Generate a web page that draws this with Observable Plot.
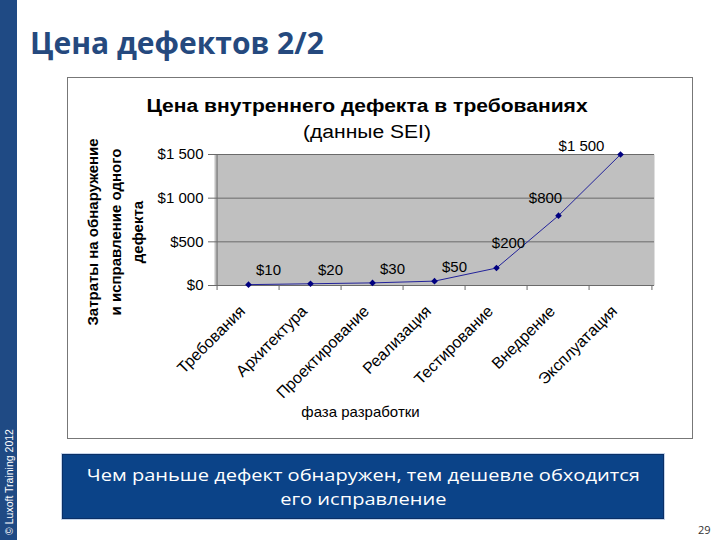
<!DOCTYPE html>
<html>
<head>
<meta charset="utf-8">
<script src="https://cdn.jsdelivr.net/npm/d3@7"></script>
<script src="https://cdn.jsdelivr.net/npm/@observablehq/plot@0.6"></script>
<style>
  html, body { margin: 0; padding: 0; background: #fff; }
  #page { position: relative; width: 720px; height: 540px; overflow: hidden; font-family: "Open Sans", sans-serif; }
  #band { position: absolute; left: 0; top: 0; width: 17px; height: 540px; background: #1f4a84; }
  #copy { position: absolute; left: 8.5px; top: 482px; transform: translate(-50%, -50%) rotate(-90deg); color: #fff;
          font: 10.5px "Liberation Sans", Arial, sans-serif; white-space: nowrap; }
  #title { position: absolute; left: 30px; top: 28px; font-size: 30px; line-height: 30px; font-weight: 700; color: #25497e; white-space: nowrap; }
  #frame { position: absolute; left: 67px; top: 77px; width: 626px; height: 362px; box-sizing: border-box; border: 1px solid #777; background: #fff; }
  #chart { position: absolute; left: 67px; top: 77px; }
  .ctitle { position: absolute; left: 67px; width: 600px; text-align: center; font-family: "Liberation Sans", Arial, sans-serif;
            font-size: 18px; line-height: 18px; color: #000; white-space: nowrap; transform: scaleX(1.17); transform-origin: 50% 50%; }
  #ct1 { top: 97px; font-weight: 700; }
  #ct2 { top: 123px; }
  #box { position: absolute; left: 62px; top: 454px; width: 602px; height: 65px; box-sizing: border-box; background: #0b4388;
         border: 1px solid #0a2f66; box-shadow: 0 0 0 1px #c5d4ea; display: flex; align-items: center; justify-content: center; }
  #boxtext { display: inline-block; text-align: center; color: #fff; font-size: 17px; line-height: 23.5px; white-space: nowrap;
             transform: scaleX(1.18); transform-origin: 50% 50%; }
  #pnum { position: absolute; left: 698px; top: 522px; font-size: 11px; color: #333; }
</style>
</head>
<body>
<div id="page">
  <div id="band"></div>
  <div id="copy"></div>
  <div id="title"></div>
  <div id="frame"></div>
  <div id="chart"></div>
  <div class="ctitle" id="ct1"></div>
  <div class="ctitle" id="ct2"></div>
  <div id="box"><div id="boxtext"></div></div>
  <div id="pnum"></div>
</div>
<script>
// ---- data ----
const categories = ["Требования", "Архитектура", "Проектирование", "Реализация", "Тестирование", "Внедрение", "Эксплуатация"];
const costs = [10, 20, 30, 50, 200, 800, 1500];
const yTicks = [0, 500, 1000, 1500];
const yTickLabels = ["$0", "$500", "$1 000", "$1 500"];
const slideTitle = "Цена дефектов 2/2";
const chartTitle = "Цена внутреннего дефекта в требованиях";
const chartSubtitle = "(данные SEI)";
const yLabelLines = ["Затраты на обнаружение", "и исправление одного", "дефекта"];
const xLabel = "фаза разработки";
const boxLines = ["Чем раньше дефект обнаружен, тем дешевле обходится", "его исправление"];
const copyright = "© Luxoft Training 2012";
const pageNumber = "29";

// ---- text ----
document.getElementById("title").textContent = slideTitle;
document.getElementById("ct1").textContent = chartTitle;
document.getElementById("ct2").textContent = chartSubtitle;
document.getElementById("copy").textContent = copyright;
document.getElementById("pnum").textContent = pageNumber;
document.getElementById("boxtext").innerHTML = boxLines.join("<br>");

// ---- chart ----
const data = categories.map((c, i) => ({phase: c, cost: costs[i]}));
const W = 626, H = 362, ML = 147, MR = 39, MT = 77, MB = 154;
const bw = (W - ML - MR) / categories.length;
const fmt = d3.formatLocale({decimal: ".", thousands: " ", grouping: [3], currency: ["$", ""]}).format("$,");
const axisColor = "#6a6a6a";
const labelFont = 15;

const chart = Plot.plot({
  width: W, height: H,
  marginLeft: ML, marginRight: MR, marginTop: MT, marginBottom: MB,
  style: {fontFamily: "'Liberation Sans', Arial, sans-serif", fontSize: "15px", color: "#000", background: "none", overflow: "visible"},
  x: {type: "band", domain: categories, padding: 0, axis: null},
  y: {domain: [0, 1500], axis: null},
  marks: [
    Plot.frame({fill: "#c0c0c0", stroke: null}),
    Plot.ruleY(yTicks, {stroke: axisColor, strokeWidth: 1}),
    Plot.ruleX(categories.slice(0, 1), {x: d => d, y1: 0, y2: 1500, dx: -bw / 2, stroke: axisColor}),
    Plot.ruleX(categories, {x: d => d, y1: 0, y2: 0, dx: -bw / 2, insetBottom: -5, stroke: axisColor}),
    Plot.ruleX(categories.slice(-1), {x: d => d, y1: 0, y2: 0, dx: bw / 2, insetBottom: -5, stroke: axisColor}),
    Plot.axisY({ticks: yTicks, tickFormat: d => yTickLabels[yTicks.indexOf(d)], tickSize: 6, tickPadding: 5,
                stroke: axisColor, fontSize: labelFont, label: null}),
    Plot.text(categories, {x: d => d, frameAnchor: "bottom", rotate: -45, textAnchor: "end", lineAnchor: "middle",
                           dx: -6, dy: 23, fontSize: 16, fill: "#000"}),
    Plot.line(data, {x: "phase", y: "cost", stroke: "#22229a", strokeWidth: 1}),
    Plot.dot(data, {x: "phase", y: "cost", symbol: "diamond2", r: 3, fill: "#000080", stroke: null}),
    Plot.text(data.slice(0, 4), {x: "phase", y: "cost", text: d => fmt(d.cost), dx: 20, dy: -14, fontSize: labelFont, fill: "#000"}),
    Plot.text(data.slice(4, 5), {x: "phase", y: "cost", text: d => fmt(d.cost), dx: 12, dy: -25, fontSize: labelFont, fill: "#000"}),
    Plot.text(data.slice(5, 6), {x: "phase", y: "cost", text: d => fmt(d.cost), dx: -13, dy: -17, fontSize: labelFont, fill: "#000"}),
    Plot.text(data.slice(6, 7), {x: "phase", y: "cost", text: d => fmt(d.cost), dx: -39, dy: -8, fontSize: labelFont, fill: "#000"}),
    Plot.text([yLabelLines.join("\n")], {frameAnchor: "left", rotate: -90, dx: -101, dy: 12, textAnchor: "middle",
                                         lineAnchor: "middle", lineHeight: 1.5, fontWeight: "bold", fontSize: 15, fill: "#000"}),
    Plot.text([xLabel], {frameAnchor: "bottom", dx: -74, dy: 131, fontSize: 15, fill: "#000"})
  ]
});
document.getElementById("chart").appendChild(chart);
</script>
</body>
</html>
